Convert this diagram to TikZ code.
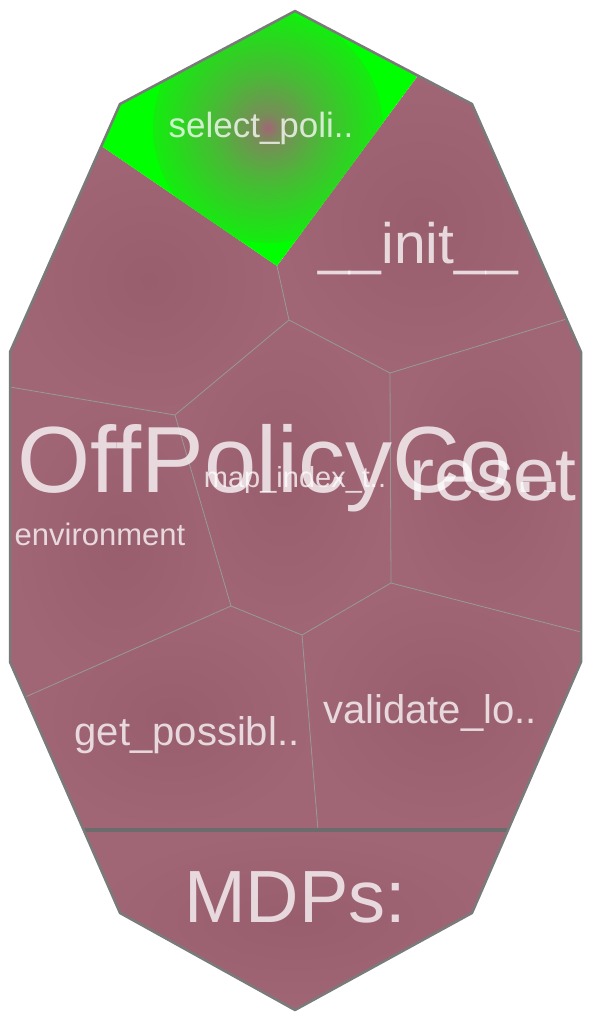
\documentclass[tikz,border=0pt]{standalone}
\usepackage{fontspec}
\setmainfont{Liberation Sans}

\definecolor{cellfill}{RGB}{160,102,118}
\definecolor{cellmid}{RGB}{153,94,110}
\definecolor{hotcell}{RGB}{0,255,0}
\definecolor{rimgray}{RGB}{122,122,122}
\definecolor{seamgray}{RGB}{150,152,150}
\definecolor{bargray}{RGB}{108,108,108}

\pgfdeclareradialshading{hotspot}{\pgfpoint{0bp}{0bp}}{color(0bp)=(cellfill); color(3bp)=(cellfill!75!hotcell); color(12bp)=(hotcell!55!cellfill); color(25bp)=(hotcell!88!cellfill); color(40bp)=(hotcell); color(50bp)=(hotcell)}

\tikzset{
    cell/.style={inner color=cellmid, outer color=cellfill},
    seam/.style={draw=seamgray, line width=0.8pt},
    rim/.style={draw=rimgray, line width=2.5pt, line join=round},
    lbl/.style={text=white, text opacity=0.76, inner sep=0pt, anchor=base},
}
\newcommand{\fs}[1]{\fontsize{#1}{#1}\selectfont}

\begin{document}
\begin{tikzpicture}[x=1pt, y=-1pt]
            \useasboundingbox (0, 0) rectangle (592, 1020);

            %%outline
            \coordinate (t) at (295, 11);
            \coordinate (ur) at (472, 104);
            \coordinate (rt) at (581, 352);
            \coordinate (rb) at (581, 662);
            \coordinate (br) at (472, 913);
            \coordinate (b) at (295, 1010);
            \coordinate (bl) at (120, 913);
            \coordinate (lb) at (10, 662);
            \coordinate (lt) at (10, 352);
            \coordinate (ul) at (120, 104);

            %%seam ends on the outline
            \coordinate (g1) at (418, 75.6);
            \coordinate (g2) at (101.4, 146);
            \coordinate (e1) at (566.5, 319);
            \coordinate (e2) at (10, 387);
            \coordinate (e3) at (581, 632);
            \coordinate (e4) at (25.3, 697);
            \coordinate (e5) at (318, 830);
            \coordinate (m1) at (83.6, 830);
            \coordinate (m2) at (508, 830);

            %%inner corners
            \coordinate (v1) at (277, 266);
            \coordinate (v2) at (289, 320);
            \coordinate (v3) at (175, 415);
            \coordinate (v4) at (390, 373);
            \coordinate (v5) at (391, 583);
            \coordinate (v6) at (302, 635);
            \coordinate (v7) at (231, 606);

            %%cells
            \shade[cell] (g1) -- (ur) -- (e1) -- (v4) -- (v2) -- (v1) -- cycle;
            \shade[cell] (g2) -- (v1) -- (v2) -- (v3) -- (e2) -- (lt) -- cycle;
            \shade[cell] (v2) -- (v4) -- (v5) -- (v6) -- (v7) -- (v3) -- cycle;
            \shade[cell] (v4) -- (e1) -- (rt) -- (e3) -- (v5) -- cycle;
            \shade[cell] (e2) -- (v3) -- (v7) -- (e4) -- (lb) -- cycle;
            \shade[cell] (v7) -- (v6) -- (e5) -- (m1) -- (e4) -- cycle;
            \shade[cell] (v6) -- (v5) -- (e3) -- (rb) -- (m2) -- (e5) -- cycle;
            \shade[cell] (m1) -- (m2) -- (br) -- (b) -- (bl) -- cycle;
            \begin{scope}
                \clip (t) -- (g1) -- (v1) -- (g2) -- (ul) -- cycle;
                \fill[hotcell] (t) -- (g1) -- (v1) -- (g2) -- (ul) -- cycle;
                \shade[shading=hotspot] (268, 128) circle (115pt);
            \end{scope}

            %%seams
            \draw[seam] (v1) -- (v2) -- (v4) -- (e1);
            \draw[seam] (v2) -- (v3) -- (e2);
            \draw[seam] (v3) -- (v7) -- (e4);
            \draw[seam] (v4) -- (v5) -- (e3);
            \draw[seam] (v5) -- (v6) -- (v7);
            \draw[seam] (v6) -- (e5);
            \draw[bargray, line width=3.2pt] (m1) -- (m2);
            \draw[rim] (t) -- (ur) -- (rt) -- (rb) -- (br) -- (b) -- (bl) -- (lb) -- (lt) -- (ul) -- cycle;

            %%labels
            \node[lbl, font=\fs{35}] (sel) at (261, 137) {select\_poli..};
            \node[lbl, font=\fs{57}] (init) at (418, 263) {\_\_init\_\_};
            \node[lbl, font=\fs{94}] (cls) at (291, 492) {OffPolicyCo..};
            \node[lbl, font=\fs{29}] (map) at (295, 487) {map\_index\_t..};
            \node[lbl, font=\fs{75}] (reset) at (493, 500) {reset};
            \node[lbl, font=\fs{31}] (env) at (100, 545) {environment};
            \node[lbl, font=\fs{40}] (get) at (187, 745) {get\_possibl..};
            \node[lbl, font=\fs{40}] (val) at (430, 723) {validate\_lo..};
            \node[lbl, font=\fs{74}] (mdp) at (295, 922) {MDPs:};
        \end{tikzpicture}
\end{document}
